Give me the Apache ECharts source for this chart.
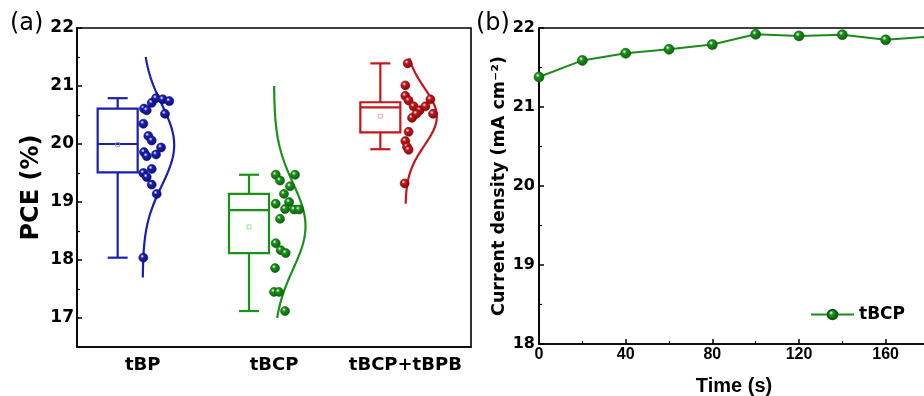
<!DOCTYPE html>
<html>
<head>
<meta charset="utf-8">
<script src="https://cdn.jsdelivr.net/npm/echarts@6/dist/echarts.min.js"></script>
<style>
html,body{margin:0;padding:0;background:#fff;}
#chart{width:924px;height:396px;}
</style>
</head>
<body>
<div id="chart"></div>
<script>
// ---------- data ----------
const categories = ['tBP', 'tBCP', 'tBCP+tBPB'];
const pceTicks = [17, 18, 19, 20, 21, 22];
const pceMinorTicks = [16.5, 17.5, 18.5, 19.5, 20.5, 21.5];

// individual PCE values (%) and their horizontal jitter (in category widths)
const tbpPCE = [20.61, 20.58, 20.71, 20.79, 20.77, 20.74, 20.52, 20.35, 20.14, 20.06, 19.94, 19.82, 19.86, 19.79, 19.57, 19.50, 19.43, 19.30, 19.14, 18.04];
const tbpJitter = [0.010, 0.031, 0.069, 0.102, 0.153, 0.203, 0.170, 0.005, 0.043, 0.069, 0.140, 0.102, 0.010, 0.031, 0.069, 0.005, 0.031, 0.069, 0.107, 0.005];
const tbcpPCE = [19.47, 19.37, 19.47, 19.27, 19.14, 18.97, 19.00, 18.88, 18.87, 18.87, 18.71, 18.29, 18.17, 18.12, 17.86, 17.45, 17.45, 17.12];
const tbcpJitter = [0.013, 0.046, 0.160, 0.122, 0.076, 0.013, 0.115, 0.084, 0.153, 0.191, 0.046, 0.013, 0.051, 0.089, 0.008, 0.000, 0.038, 0.084];
const mixPCE = [21.39, 21.01, 20.83, 20.75, 20.65, 20.58, 20.65, 20.77, 20.52, 20.45, 20.52, 20.21, 20.05, 19.95, 19.90, 19.32];
const mixJitter = [0.018, 0.000, 0.000, 0.025, 0.063, 0.109, 0.153, 0.191, 0.211, 0.051, 0.084, 0.025, 0.000, 0.013, 0.025, -0.005];

// box plot statistics
const boxLow    = [18.04, 17.12, 19.91];
const boxQ1     = [19.51, 18.12, 20.20];
const boxMedian = [20.00, 18.86, 20.63];
const boxQ3     = [20.61, 19.14, 20.72];
const boxHigh   = [20.79, 19.47, 21.39];
const boxMean   = [19.99, 18.57, 20.48];

// vertical extent of the fitted normal curves
const curveLow  = [17.70, 17.00, 18.97];
const curveHigh = [21.50, 21.00, 21.48];

// panel (b)
const timeS = [0, 20, 40, 60, 80, 100, 120, 140, 160, 180];
const currentDensity = [21.38, 21.59, 21.68, 21.73, 21.79, 21.92, 21.90, 21.915, 21.85, 21.89];

// ---------- styling ----------
const colors = ['#1a1fb4', '#1a921a', '#c8141a'];
const dark   = ['#0a0c70', '#0a5a0a', '#7a0a0c'];
const light  = ['#8c8fe0', '#8fd08f', '#e89094'];
const FONT = 'DejaVu Sans';

function ball(i) {
  return {
    type: 'radial', x: 0.38, y: 0.35, r: 0.7,
    colorStops: [
      {offset: 0, color: '#ffffff'},
      {offset: 0.28, color: colors[i]},
      {offset: 1, color: dark[i]}
    ]
  };
}

const groupsPCE = [tbpPCE, tbcpPCE, mixPCE];
const groupsJitter = [tbpJitter, tbcpJitter, mixJitter];

function meanOf(a) { return a.reduce((s, v) => s + v, 0) / a.length; }
function sdOf(a) { const m = meanOf(a); return Math.sqrt(a.reduce((s, v) => s + (v - m) * (v - m), 0) / (a.length - 1)); }

const series = [];

// boxes
const boxData = categories.map((c, i) => [i, boxLow[i], boxQ1[i], boxMedian[i], boxQ3[i], boxHigh[i], boxMean[i]]);
series.push({
  name: 'box',
  type: 'custom',
  xAxisIndex: 1, yAxisIndex: 0,
  encode: {x: 0, y: [1, 2, 3, 4, 5]},
  data: boxData,
  z: 3,
  renderItem: function (params, api) {
    const i = api.value(0);
    const cx = api.coord([i, api.value(3)])[0] - 25;
    const yLow = api.coord([i, api.value(1)])[1];
    const yQ1 = api.coord([i, api.value(2)])[1];
    const yMed = api.coord([i, api.value(3)])[1];
    const yQ3 = api.coord([i, api.value(4)])[1];
    const yHigh = api.coord([i, api.value(5)])[1];
    const yMean = api.coord([i, api.value(6)])[1];
    const st = {stroke: colors[i], lineWidth: 2.2, fill: null};
    return {
      type: 'group',
      children: [
        {type: 'rect', shape: {x: cx - 20, y: yQ3, width: 40, height: yQ1 - yQ3}, style: st},
        {type: 'line', shape: {x1: cx - 20, y1: yMed, x2: cx + 20, y2: yMed}, style: st},
        {type: 'line', shape: {x1: cx, y1: yQ3, x2: cx, y2: yHigh}, style: st},
        {type: 'line', shape: {x1: cx, y1: yQ1, x2: cx, y2: yLow}, style: st},
        {type: 'line', shape: {x1: cx - 10, y1: yHigh, x2: cx + 10, y2: yHigh}, style: st},
        {type: 'line', shape: {x1: cx - 10, y1: yLow, x2: cx + 10, y2: yLow}, style: st},
        {type: 'rect', shape: {x: cx - 2, y: yMean - 2, width: 4, height: 4}, style: {stroke: light[i], lineWidth: 0.8, fill: null}}
      ]
    };
  }
});

// fitted normal curves
groupsPCE.forEach((vals, i) => {
  const mu = meanOf(vals), sd = sdOf(vals);
  const pts = [];
  const n = 80;
  for (let k = 0; k <= n; k++) {
    const y = curveLow[i] + (curveHigh[i] - curveLow[i]) * k / n;
    pts.push([i + 0.24 * Math.exp(-(y - mu) * (y - mu) / (2 * sd * sd)), y]);
  }
  series.push({
    name: categories[i] + ' curve',
    type: 'line', xAxisIndex: 1, yAxisIndex: 0,
    data: pts, showSymbol: false, symbol: 'none', smooth: false,
    lineStyle: {color: colors[i], width: 2.2}, z: 4, silent: true
  });
});

// individual points
groupsPCE.forEach((vals, i) => {
  series.push({
    name: categories[i] + ' points',
    type: 'scatter', xAxisIndex: 1, yAxisIndex: 0,
    data: vals.map((v, k) => [i + groupsJitter[i][k], v]),
    symbolSize: 9,
    itemStyle: {color: ball(i), borderColor: dark[i], borderWidth: 0.6, opacity: 1},
    z: 5
  });
});

// panel (b)
series.push({
  name: 'tBCP',
  type: 'line', xAxisIndex: 2, yAxisIndex: 2,
  data: timeS.map((t, k) => [t, currentDensity[k]]),
  symbol: 'circle', symbolSize: 10, showSymbol: true,
  lineStyle: {color: '#1a8c1a', width: 2},
  itemStyle: {color: ball(1), borderColor: '#0a5a0a', borderWidth: 0.6},
  z: 5
});

const axisLineStyle = {color: '#000', width: 1.6};

const option = {
  animation: false,
  backgroundColor: '#fff',
  grid: [
    {left: 77, top: 28, right: 453, bottom: 49, show: true, borderColor: '#000', borderWidth: 1.6, backgroundColor: 'transparent', containLabel: false, outerBoundsMode: 'none'},
    {left: 539, top: 28, right: -5, bottom: 52, show: true, borderColor: '#000', borderWidth: 1.6, backgroundColor: 'transparent', containLabel: false, outerBoundsMode: 'none'}
  ],
  xAxis: [
    {
      gridIndex: 0, type: 'category', data: categories, boundaryGap: true,
      axisLine: {onZero: false, lineStyle: axisLineStyle},
      axisTick: {alignWithLabel: true, inside: true, length: 6, lineStyle: {color: '#000', width: 1.5}},
      axisLabel: {interval: 0, color: '#000', fontFamily: FONT, fontWeight: 'bold', fontSize: 18, margin: 9},
      splitLine: {show: false}
    },
    {
      gridIndex: 0, type: 'value', min: -0.5, max: 2.5, show: false,
      axisLine: {onZero: false},
      splitLine: {show: false}
    },
    {
      gridIndex: 1, type: 'value', min: 0, max: 180, interval: 40,
      axisLine: {onZero: false, lineStyle: axisLineStyle},
      axisTick: {inside: true, length: 5, lineStyle: {color: '#000', width: 1.5}},
      minorTick: {show: true, splitNumber: 2, length: 3, lineStyle: {color: '#000', width: 1.2}},
      axisLabel: {color: '#000', fontFamily: 'Liberation Sans', fontWeight: 'bold', fontSize: 16, margin: 3, showMaxLabel: false},
      splitLine: {show: false},
      name: 'Time (s)', nameLocation: 'middle', nameGap: 32,
      nameTextStyle: {color: '#000', fontFamily: 'Liberation Sans', fontWeight: 'bold', fontSize: 20}
    }
  ],
  yAxis: [
    {
      gridIndex: 0, type: 'value', min: 16.5, max: 22, position: 'left',
      axisLine: {show: true, onZero: false, lineStyle: axisLineStyle},
      axisTick: {show: true, inside: true, length: 5, customValues: pceTicks, lineStyle: {color: '#000', width: 1.5}},
      axisLabel: {color: '#000', fontFamily: FONT, fontWeight: 'bold', fontSize: 17, margin: 3, customValues: pceTicks},
      splitLine: {show: false},
      name: 'PCE (%)', nameLocation: 'middle', nameGap: 33,
      nameTextStyle: {color: '#000', fontFamily: FONT, fontWeight: 'bold', fontSize: 24}
    },
    {
      gridIndex: 0, type: 'value', min: 16.5, max: 22, position: 'left',
      axisLine: {show: false, onZero: false},
      axisTick: {show: true, inside: true, length: 3, customValues: pceMinorTicks, lineStyle: {color: '#000', width: 1.2}},
      axisLabel: {show: false},
      splitLine: {show: false}
    },
    {
      gridIndex: 1, type: 'value', min: 18, max: 22, interval: 1,
      axisLine: {show: true, onZero: false, lineStyle: axisLineStyle},
      axisTick: {inside: true, length: 5, lineStyle: {color: '#000', width: 1.5}},
      minorTick: {show: true, splitNumber: 2, length: 3, lineStyle: {color: '#000', width: 1.2}},
      axisLabel: {color: '#000', fontFamily: FONT, fontWeight: 'bold', fontSize: 16, margin: 4},
      splitLine: {show: false},
      name: 'Current density (mA cm⁻²)', nameLocation: 'middle', nameGap: 31,
      nameTextStyle: {color: '#000', fontFamily: FONT, fontWeight: 'bold', fontSize: 17.5}
    }
  ],
  legend: {
    data: ['tBCP'],
    left: 805, top: 301,
    itemWidth: 43, itemHeight: 12, itemGap: 5,
    textStyle: {color: '#000', fontFamily: FONT, fontWeight: 'bold', fontSize: 17}
  },
  graphic: [
    {type: 'text', left: 10, top: 12, style: {text: '(a)', fill: '#000', font: '24px "DejaVu Sans"'}},
    {type: 'text', left: 476, top: 12, style: {text: '(b)', fill: '#000', font: '24px "DejaVu Sans"'}}
  ],
  series: series
};

const chart = echarts.init(document.getElementById('chart'), null, {renderer: 'canvas'});
chart.setOption(option);
</script>
</body>
</html>
